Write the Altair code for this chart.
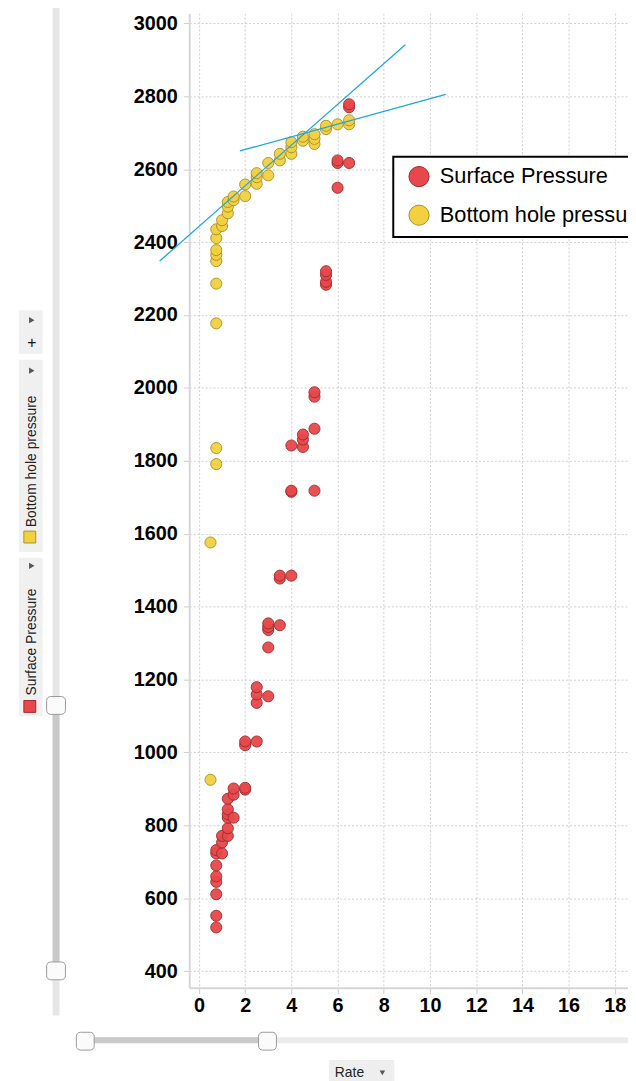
import altair as alt
import pandas as pd

series_names = ["Surface Pressure", "Bottom hole pressure"]
fill_colors = ["#e8474b", "#f2d03f"]
stroke_colors = ["#a02c2c", "#ab9228"]

sp_rate = [0.75, 0.75, 0.75, 0.75, 0.75, 0.75, 0.75, 0.75, 1.0, 1.0, 1.0, 1.25, 1.25, 1.25, 1.25, 1.25, 1.25,
           1.5, 1.5, 1.5, 2.0, 2.0, 2.0, 2.0, 2.5, 2.5, 2.5, 2.5, 3.0, 3.0, 3.0, 3.0, 3.0, 3.5, 3.5, 3.5,
           4.0, 4.0, 4.0, 4.0, 4.5, 4.5, 4.5, 5.0, 5.0, 5.0, 5.0, 5.5, 5.5, 5.5, 5.5, 6.0, 6.0, 6.0,
           6.5, 6.5, 6.5]
sp_pres = [520, 552, 611, 645, 660, 690, 723, 732, 723, 753, 771, 771, 792, 821, 830, 844, 873,
           821, 884, 901, 898, 903, 1020, 1030, 1030, 1136, 1159, 1179, 1154, 1288, 1336, 1344, 1354, 1349, 1477, 1485,
           1485, 1715, 1718, 1842, 1838, 1858, 1872, 1718, 1888, 1976, 1988, 2283, 2291, 2310, 2320, 2549, 2617, 2624,
           2617, 2770, 2778]

bhp_rate = [0.5, 0.5, 0.75, 0.75, 0.75, 0.75, 0.75, 0.75, 0.75, 0.75, 0.75, 1.0, 1.0, 1.25, 1.25, 1.25, 1.5, 1.5,
            2.0, 2.0, 2.5, 2.5, 2.5, 3.0, 3.0, 3.5, 3.5, 4.0, 4.0, 4.0, 4.5, 4.5, 5.0, 5.0, 5.0, 5.5, 5.5,
            6.0, 6.5, 6.5]
bhp_pres = [925, 1576, 1791, 1835, 2177, 2286, 2348, 2365, 2378, 2411, 2435, 2444, 2460, 2479, 2497, 2510, 2515, 2525,
            2526, 2558, 2560, 2578, 2589, 2583, 2617, 2624, 2642, 2642, 2660, 2674, 2678, 2689, 2669, 2683, 2696, 2710, 2719,
            2723, 2723, 2734]

fit_ids = ["fit1", "fit1", "fit2", "fit2"]
fit_rate = [-1.70, 8.93, 1.77, 10.68]
fit_pres = [2348, 2941, 2650, 2805]

x_ticks = [0, 2, 4, 6, 8, 10, 12, 14, 16, 18]
y_ticks = [400, 600, 800, 1000, 1200, 1400, 1600, 1800, 2000, 2200, 2400, 2600, 2800, 3000]

pts = pd.DataFrame({
    "Rate": sp_rate + bhp_rate,
    "Pressure": sp_pres + bhp_pres,
    "Series": [series_names[0]] * len(sp_rate) + [series_names[1]] * len(bhp_rate),
})
fits = pd.DataFrame({"fit": fit_ids, "Rate": fit_rate, "Pressure": fit_pres})

FONT = "Liberation Sans"

xscale = alt.Scale(domain=[-0.42, 18.57], nice=False, zero=False)
yscale = alt.Scale(domain=[354.6, 3028], nice=False, zero=False)

xaxis = alt.Axis(values=x_ticks, title=None, format="d", labelFont=FONT, labelFontWeight="bold", labelFontSize=20,
                 labelColor="black", domainColor="#d6d6d6", domainWidth=2, tickColor="#cccccc",
                 tickSize=6, labelPadding=2, gridColor="#cfcfcf", gridDash=[2, 2], labelFlush=False)
yaxis = alt.Axis(values=y_ticks, title=None, format="d", labelFont=FONT, labelFontWeight="bold", labelFontSize=20,
                 labelColor="black", domainColor="#d6d6d6", domainWidth=2, tickColor="#cccccc",
                 tickSize=6, labelPadding=6, gridColor="#cfcfcf", gridDash=[2, 2], labelFlush=False)

legend = alt.Legend(orient="none", legendX=206, legendY=145, title=None, labelFont=FONT, labelFontSize=22,
                    labelColor="black", symbolSize=415, symbolStrokeWidth=1, symbolOpacity=1,
                    symbolOffset=6, padding=9, rowPadding=13, labelOffset=10, labelLimit=400,
                    fillColor="white", strokeColor="black")

points = alt.Chart(pts).mark_circle(size=125, opacity=0.95, strokeWidth=1).encode(
    x=alt.X("Rate:Q", scale=xscale, axis=xaxis),
    y=alt.Y("Pressure:Q", scale=yscale, axis=yaxis),
    fill=alt.Fill("Series:N", scale=alt.Scale(domain=series_names, range=fill_colors), legend=legend),
    stroke=alt.Stroke("Series:N", scale=alt.Scale(domain=series_names, range=stroke_colors), legend=legend),
)

lines = alt.Chart(fits).mark_line(color="#1ca6e2", strokeWidth=1.3).encode(
    x=alt.X("Rate:Q", scale=xscale),
    y=alt.Y("Pressure:Q", scale=yscale),
    detail="fit:N",
)

one = alt.Data(values=[{"k": 1}])


def box(x1, x2, y1, y2, fill, stroke=None, radius=0):
    kw = dict(fill=fill, cornerRadius=radius)
    if stroke:
        kw["stroke"] = stroke
        kw["strokeWidth"] = 1
    return alt.Chart(one).mark_rect(**kw).encode(
        x=alt.value(x1), x2=alt.value(x2), y=alt.value(y1), y2=alt.value(y2))


def label(txt, x, y, size, angle=0, align="left", baseline="middle", color="#222222"):
    kw = dict(text=txt, font=FONT, fontSize=size, align=align, baseline=baseline, color=color)
    if angle:
        kw["angle"] = angle
    return alt.Chart(one).mark_text(**kw).encode(x=alt.value(x), y=alt.value(y))


def tri(x, y, shape, size=40, color="#555555"):
    return alt.Chart(one).mark_point(shape=shape, filled=True, size=size, color=color, opacity=1).encode(
        x=alt.value(x), y=alt.value(y))


deco = [
    # vertical slider
    box(-138, -131, -8, 1012, "#e6e6e6"),
    box(-138, -131, 698, 967, "#c9c9c9"),
    box(-144, -125, 690, 708, "#fbfbfb", "#9a9a9a", 4),
    box(-144, -125, 958, 976, "#fbfbfb", "#9a9a9a", 4),
    # horizontal slider
    box(-114, 449, 1034, 1040, "#ebebeb"),
    box(-105, 79, 1034, 1040, "#c9c9c9"),
    box(-114, -96, 1029, 1047, "#fbfbfb", "#9a9a9a", 4),
    box(70, 88, 1029, 1047, "#fbfbfb", "#9a9a9a", 4),
    # series tags
    box(-172, -148, 300, 344, "#f0f0f0"),
    box(-172, -148, 350, 544, "#f0f0f0"),
    box(-172, -148, 550, 710, "#f0f0f0"),
    tri(-159, 310, "triangle-right"),
    label("+", -159, 333, 16, align="center", color="#111111"),
    tri(-159, 361, "triangle-right"),
    label("Bottom hole pressure", -158.5, 519, 14, angle=270),
    box(-167, -155, 523, 535, fill_colors[1], stroke_colors[1]),
    tri(-159, 558, "triangle-right"),
    label("Surface Pressure", -158.5, 689, 14, angle=270),
    box(-167, -155, 694, 706, fill_colors[0], stroke_colors[0]),
    # x field button
    box(141, 207, 1057, 1082, "#eeeeee"),
    label("Rate", 147, 1074, 14, baseline="alphabetic"),
    tri(195, 1070, "triangle-down", 30, "#555555"),
]

chart = alt.layer(*deco, points, lines).properties(
    width=443,
    height=984,
    autosize=alt.AutoSizeParams(type="none"),
    padding={"left": 183, "top": 0, "right": 0, "bottom": 89},
).configure_view(stroke=None).configure_legend(strokeWidth=2)

chart.save("out.html", embed_options={"renderer": "svg", "actions": False})
